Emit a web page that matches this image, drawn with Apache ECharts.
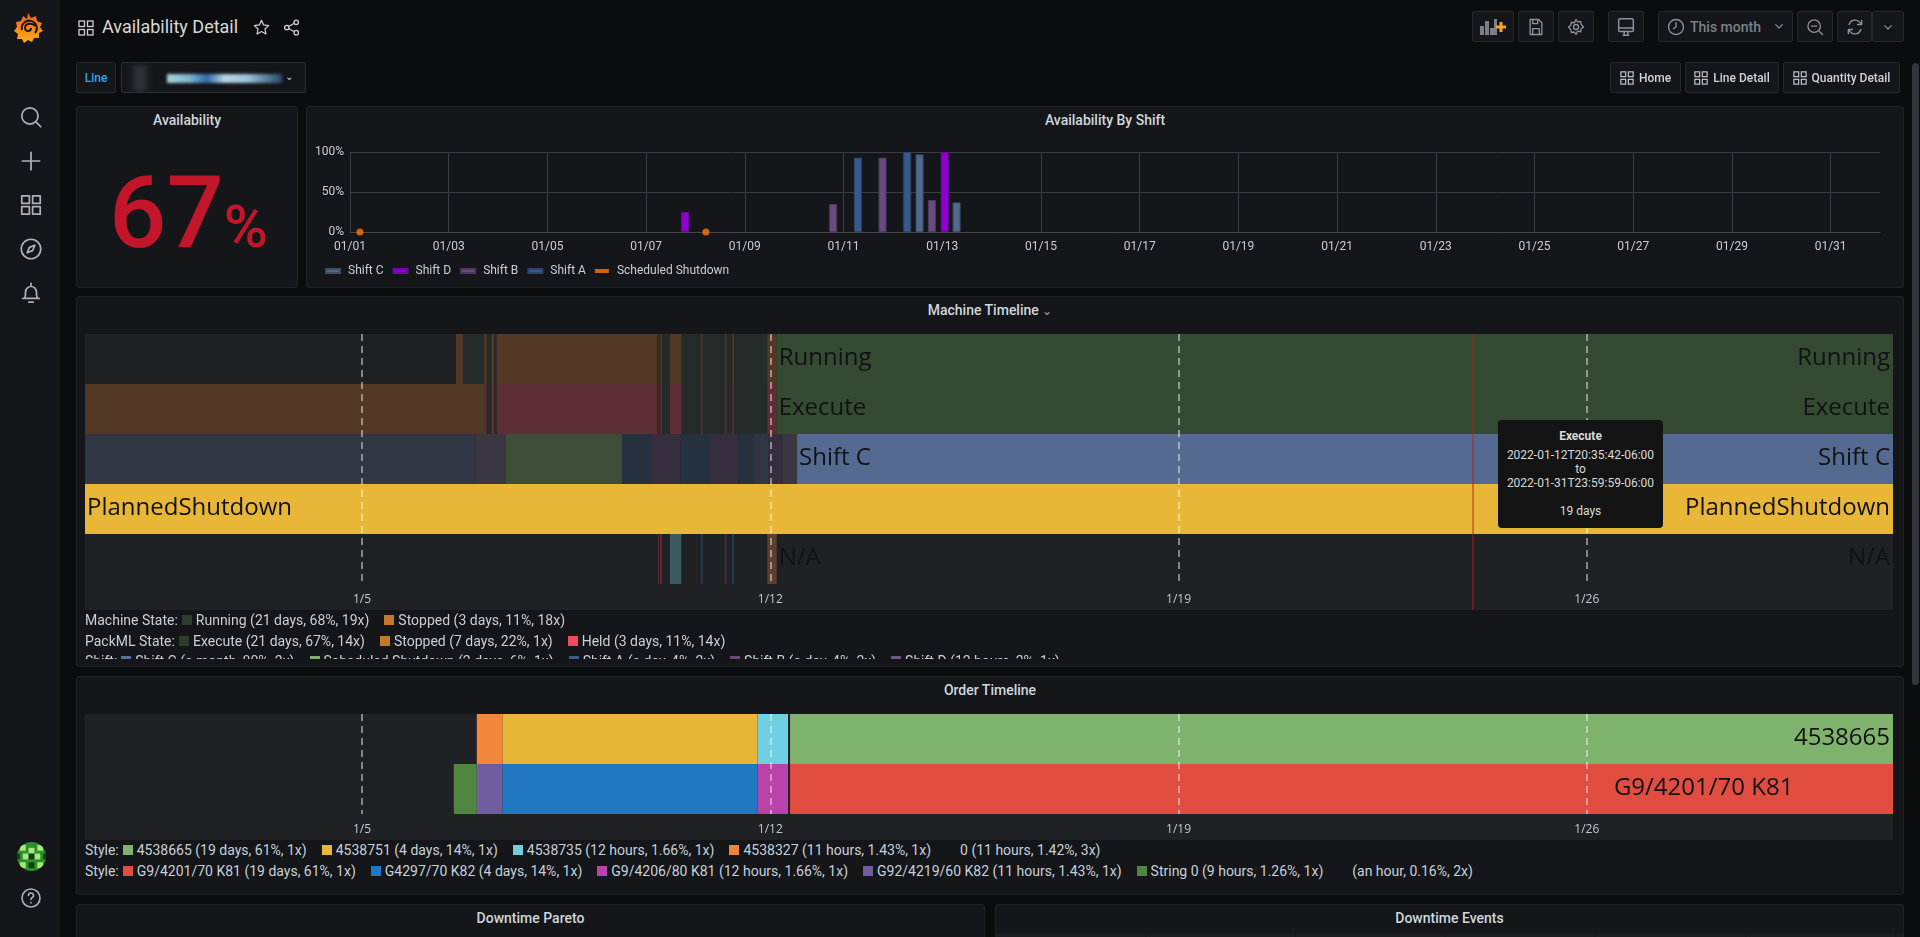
<!DOCTYPE html>
<html>
<head>
<meta charset="utf-8">
<title>Availability Detail</title>
<script src="https://cdn.jsdelivr.net/npm/echarts@6/dist/echarts.min.js"></script>
<style>
html, body { margin: 0; padding: 0; width: 1920px; height: 937px; overflow: hidden; background: #0b0c0e; font-family: Roboto, sans-serif; color: #c7d0d9; }
div { box-sizing: border-box; }
.abs, .panel, .btn, .legend, .chart, .icon { position: absolute; }
.panel { background: #141619; border: 1px solid #202226; border-radius: 3px; }
.ptitle { position: absolute; left: 0; right: 0; top: 5px; line-height: 17px; text-align: center; font-size: 14px; font-weight: 500; color: #d0d6de; white-space: nowrap; }
.btn { background: #141619; border: 1px solid #25272b; border-radius: 2px; display: flex; align-items: center; justify-content: center; font-size: 12px; font-weight: 500; color: #d0d4d9; white-space: nowrap; }
.btn svg { margin-right: 5px; }
.btn.only svg { margin-right: 0; }
.legend { font-size: 14px; line-height: 18px; color: #c7d0d9; white-space: nowrap; display: flex; align-items: center; }
.legend i { display: inline-block; width: 10px; height: 10px; margin: 0 4px 0 4px; flex: none; }
.legend span { margin-right: 11px; }
.chart { background: #202124; }
#sidebar { position: absolute; left: 0; top: 0; width: 60px; height: 937px; background: #141619; }
#tip { position: absolute; left: 1498px; top: 420px; width: 165px; height: 108px; background: #141414; border-radius: 4px; font-size: 12px; line-height: 14px; text-align: center; color: #d8d9da; padding-top: 9px; z-index: 5; }
#tip b { display: block; font-weight: 700; margin-bottom: 5px; }
</style>
</head>
<body>
<div id="sidebar"></div>

<div class="abs" id="title" style="left:102px;top:15px;font-size:18px;line-height:24px;color:#d8d9da;white-space:nowrap;">Availability Detail</div>

<div class="btn" style="left:76px;top:62px;width:40px;height:31px;color:#33a2e5;">Line</div>
<div class="btn" style="left:121px;top:62px;width:185px;height:31px;border-color:#2c2e33;overflow:hidden;">
  <div class="abs" style="left:6px;top:2px;width:24px;height:27px;background:linear-gradient(90deg,#141619,#33373b 50%,#141619);filter:blur(2px);"></div>
  <div class="abs" style="left:45px;top:11px;width:115px;height:9px;background:linear-gradient(90deg,#a8d4dc,#7fb4cc 20%,#2f6aa8 35%,#bcd6e0 50%,#9cc4dc 70%,#27486a 100%);filter:blur(1.5px);"></div>
  <div class="abs" style="right:12px;top:8px;font-size:10px;color:#c7d0d9;">&#8964;</div>
</div>

<div class="panel" style="left:76px;top:106px;width:222px;height:182px;">
  <div class="ptitle">Availability</div>
  <div class="abs" id="stat" style="left:32px;top:47px;line-height:118px;color:#c4162a;white-space:nowrap;font-weight:500;"></div>
</div>
<div class="panel" style="left:306px;top:106px;width:1598px;height:182px;">
  <div class="ptitle">Availability By Shift</div>
</div>
<div class="chart" id="shiftChart" style="left:307px;top:126px;width:1596px;height:160px;background:transparent;"></div>

<div class="panel" style="left:76px;top:296px;width:1828px;height:371px;overflow:hidden;">
  <div class="ptitle">Machine Timeline <span style="font-size:12px;color:#9fa7b3;">&#8964;</span></div>
</div>
<div class="chart" id="machineChart" style="left:85px;top:334px;width:1808px;height:276px;"></div>
<div class="abs" id="machineLegend" style="left:0;top:0;width:1920px;height:659px;overflow:hidden;"></div>

<div id="tip"><b>Execute</b>2022-01-12T20:35:42-06:00<br>to<br>2022-01-31T23:59:59-06:00<br><br>19 days</div>

<div class="panel" style="left:76px;top:676px;width:1828px;height:219px;">
  <div class="ptitle">Order Timeline</div>
</div>
<div class="chart" id="orderChart" style="left:85px;top:714px;width:1808px;height:126px;"></div>
<div class="abs" id="orderLegend" style="left:0;top:0;"></div>

<div class="panel" style="left:76px;top:904px;width:909px;height:60px;">
  <div class="ptitle">Downtime Pareto</div>
</div>
<div class="panel" style="left:995px;top:904px;width:909px;height:60px;">
  <div class="ptitle">Downtime Events</div>
  <div class="abs" style="left:0;right:0;top:28px;height:30px;background:repeating-linear-gradient(90deg,#1b1d21 0 149px,#141619 149px 150px);background-position:0 0;"></div>
</div>

<div class="abs" style="left:1912px;top:63px;width:7px;height:622px;border-radius:4px;background:#33353b;"></div>

<script>
// values, x positions are day of January as a decimal
const availabilityValue = 67

const shiftTickDays = [1, 3, 5, 7, 9, 11, 13, 15, 17, 19, 21, 23, 25, 27, 29, 31]
const yPercentTicks = [0, 50, 100]
const shiftCBars = [[12.54, 97], [13.29, 37]]
const shiftDBars = [[7.79, 25], [13.05, 100]]
const shiftBBars = [[10.79, 35], [11.79, 93], [12.79, 40]]
const shiftABars = [[11.29, 93], [12.29, 100]]
const shutdownPoints = [[1.2, 0], [8.21, 0]]

const timelineTickDays = [5.75, 12.75, 19.75, 26.75]
const timelineTickLabels = ['1/5', '1/12', '1/19', '1/26']

const machineRows = ['Machine State', 'PackML State', 'Shift', 'Mode', 'Status']
const machineStateSegments = [
    [7.361, 7.481, 'Stopped'], [7.481, 7.842, 'Running'], [7.842, 7.888, 'Stopped'], [7.888, 7.967, 'Running'],
    [7.967, 8.018, 'Stopped'], [8.018, 8.059, 'Running'], [8.059, 10.813, 'Stopped'], [10.813, 10.830, 'Running'],
    [10.830, 10.847, 'Stopped'], [10.847, 10.865, 'Running'], [10.865, 10.894, 'Stopped'], [10.894, 11.031, 'Running'],
    [11.031, 11.232, 'Stopped'], [11.232, 11.562, 'Running'], [11.562, 11.592, 'Stopped'], [11.592, 11.974, 'Running'],
    [11.974, 12.003, 'Stopped'], [12.003, 12.099, 'Running'], [12.099, 12.128, 'Stopped'], [12.128, 12.699, 'Running'],
    [12.699, 12.860, 'Stopped'], [12.860, 32, 'RunningNow']
]
const packmlSegments = [
    [1, 7.854, 'Stopped'], [7.854, 7.888, 'Held'], [7.888, 7.967, 'Execute'], [7.967, 8.018, 'Held'],
    [8.018, 8.059, 'Execute'], [8.059, 10.813, 'Held'], [10.813, 10.830, 'Execute'], [10.830, 10.847, 'Held'],
    [10.847, 10.865, 'Execute'], [10.865, 10.894, 'Held'], [10.894, 11.031, 'Execute'], [11.031, 11.232, 'Held'],
    [11.232, 11.562, 'Execute'], [11.562, 11.592, 'Held'], [11.592, 11.974, 'Execute'], [11.974, 12.003, 'Held'],
    [12.003, 12.099, 'Execute'], [12.099, 12.128, 'Held'], [12.128, 12.699, 'Execute'], [12.699, 12.860, 'Held'],
    [12.860, 32, 'ExecuteNow']
]
const shiftSegments = [
    [1, 7.704, 'Shift C'], [7.704, 8.21, 'Shift D'], [8.21, 10.208, 'Scheduled Shutdown'], [10.208, 10.722, 'Shift A'],
    [10.722, 11.214, 'Shift B'], [11.214, 11.717, 'Shift A'], [11.717, 12.209, 'Shift B'], [12.209, 12.459, 'Shift A'],
    [12.459, 12.716, 'Shift C'], [12.716, 12.963, 'Shift B'], [12.963, 13.209, 'Shift D'], [13.209, 32, 'Shift CNow']
]
const modeSegments = [[1, 32, 'PlannedShutdown']]
const statusSegments = [
    [10.825, 10.842, 'Fault'], [10.859, 10.888, 'Fault'], [11.031, 11.225, 'Changeover'], [11.562, 11.592, 'Starved'],
    [11.969, 12.003, 'Blocked'], [12.094, 12.128, 'Starved'], [12.699, 12.860, 'Idle']
]
// row, text, day the label sits at, side
const machineLabels = [
    [0, 'Running', 12.860, 'left'], [0, 'Running', 32, 'right'],
    [1, 'Execute', 12.860, 'left'], [1, 'Execute', 32, 'right'],
    [2, 'Shift C', 13.209, 'left'], [2, 'Shift C', 32, 'right'],
    [3, 'PlannedShutdown', 1, 'left'], [3, 'PlannedShutdown', 32, 'right'],
    [4, 'N/A', 12.860, 'left'], [4, 'N/A', 32, 'right']
]
const hoverDay = [24.8]

const orderRows = ['Order', 'Style']
const orderSegments = [
    [7.718, 8.161, '4538327'], [8.161, 12.531, '4538751'], [12.531, 13.054, '4538735'], [13.089, 32, '4538665']
]
const styleSegments = [
    [7.324, 7.718, 'String 0'], [7.718, 8.161, 'G92/4219/60 K82'], [8.161, 12.531, 'G4297/70 K82'],
    [12.531, 13.054, 'G9/4206/80 K81'], [13.089, 32, 'G9/4201/70 K81']
]
const orderLabels = [
    [0, '4538665', 32, 'right'],
    [1, 'G9/4201/70 K81', 27.18, 'left']
]

const machineLegendLines = [
    ['Machine State:', ['Running (21 days, 68%, 19x)', '#2c3d2c'], ['Stopped (3 days, 11%, 18x)', '#c4792a']],
    ['PackML State:', ['Execute (21 days, 67%, 14x)', '#2c3d2c'], ['Stopped (7 days, 22%, 1x)', '#c4792a'], ['Held (3 days, 11%, 14x)', '#f2495c']],
    ['Shift:', ['Shift C (a month, 80%, 2x)', '#5a6f95'], ['Scheduled Shutdown (2 days, 6%, 1x)', '#7eb26d'], ['Shift A (a day, 4%, 2x)', '#3b5a8a'], ['Shift B (a day, 4%, 2x)', '#6b4a80'], ['Shift D (12 hours, 2%, 1x)', '#6f5a85']]
]
const orderLegendLines = [
    ['Style:', ['4538665 (19 days, 61%, 1x)', '#7eb26d'], ['4538751 (4 days, 14%, 1x)', '#eab839'], ['4538735 (12 hours, 1.66%, 1x)', '#6ed0e0'], ['4538327 (11 hours, 1.43%, 1x)', '#ef843c'], ['0 (11 hours, 1.42%, 3x)', 'transparent']],
    ['Style:', ['G9/4201/70 K81 (19 days, 61%, 1x)', '#e24d42'], ['G4297/70 K82 (4 days, 14%, 1x)', '#1f78c1'], ['G9/4206/80 K81 (12 hours, 1.66%, 1x)', '#ba43a9'], ['G92/4219/60 K82 (11 hours, 1.43%, 1x)', '#705da0'], ['String 0 (9 hours, 1.26%, 1x)', '#508642'], ['(an hour, 0.16%, 2x)', 'transparent']]
]

const stateColors = {
    'Running': '#252b28', 'RunningNow': '#354a33', 'Stopped': '#533826', 'Held': '#5e2d35',
    'Execute': '#252b28', 'ExecuteNow': '#354a33',
    'Shift C': '#303644', 'Shift CNow': '#546a90', 'Shift D': '#3b3742', 'Shift A': '#263140', 'Shift B': '#362e3e',
    'Scheduled Shutdown': '#3d4d38', 'PlannedShutdown': '#e8b738',
    'Fault': '#5d2d35', 'Changeover': '#3c5a60', 'Starved': '#263a50', 'Blocked': '#3f2d4a', 'Idle': '#5e3f2b',
    '4538327': '#f2863a', '4538751': '#e8b738', '4538735': '#6ed0e0', '4538665': '#7eb26d',
    'String 0': '#508642', 'G92/4219/60 K82': '#705da0', 'G4297/70 K82': '#1f78c1', 'G9/4206/80 K81': '#ba43a9', 'G9/4201/70 K81': '#e24d42'
}

// ---- page chrome ----
const gridSvg = (size, color) => `<svg width="${size}" height="${size}" viewBox="0 0 16 16" fill="none" stroke="${color}" stroke-width="1.3"><rect x="1" y="1" width="5.5" height="5.5"/><rect x="9.5" y="1" width="5.5" height="5.5"/><rect x="1" y="9.5" width="5.5" height="5.5"/><rect x="9.5" y="9.5" width="5.5" height="5.5"/></svg>`
const iconPaths = {
    search: '<circle cx="11" cy="11" r="7.5"/><path d="M17 17l4 4"/>',
    plus: '<path d="M12 4v16M4 12h16"/>',
    grid: '<rect x="3.5" y="3.5" width="7" height="7"/><rect x="13.5" y="3.5" width="7" height="7"/><rect x="3.5" y="13.5" width="7" height="7"/><rect x="13.5" y="13.5" width="7" height="7"/>',
    compass: '<circle cx="12" cy="12" r="9"/><path d="M15.5 8.5l-2 5-5 2 2-5z"/>',
    bell: '<path d="M12 3v2M6 17c1-2 1-4 1-6a5 5 0 0 1 10 0c0 2 0 4 1 6zM4.5 17h15M10 20.5h4"/>',
    help: '<circle cx="12" cy="12" r="9"/><path d="M9.5 9.5a2.5 2.5 0 1 1 3.5 2.3c-.7.3-1 .8-1 1.7M12 16.5v.5"/>',
    star: '<path d="M12 3l2.7 5.8 6.3.8-4.6 4.3 1.2 6.3-5.6-3.1-5.6 3.1 1.2-6.3L3 9.6l6.3-.8z"/>',
    share: '<circle cx="18" cy="5.5" r="2.8"/><circle cx="6" cy="12" r="2.8"/><circle cx="18" cy="18.5" r="2.8"/><path d="M8.5 10.7l7-4M8.5 13.3l7 4"/>',
    save: '<path d="M5 3h10l4 4v14H5zM8 3v5h6V3M8 21v-7h8v7"/>',
    gear: '<circle cx="12" cy="12" r="3"/><path d="M12 3l2 3 3.5-.7.7 3.5L21 12l-2.800 2.200-.7 3.500-3.500-.7L12 21l-2-3-3.500.7-.7-3.500L3 12l2.800-2.200.7-3.500 3.500.7z"/>',
    monitor: '<rect x="4" y="3" width="16" height="14" rx="1.500"/><path d="M4 13h16M9 21h6M10 17v4M14 17v4"/>',
    clock: '<circle cx="12" cy="12" r="9"/><path d="M12 6.500V12l-3 2"/>',
    zoom: '<circle cx="11" cy="11" r="7.500"/><path d="M17 17l4 4M8 11h6"/>',
    refresh: '<path d="M5 9a7.500 7.500 0 0 1 13-2.500l2 2.500M19 15a7.500 7.500 0 0 1-13 2.500L4 15M20 4v5h-5M4 20v-5h5"/>',
    chevron: '<path d="M7 10l5 5 5-5"/>'
}
const placeIcon = (name, cx, cy, size, color) => {
    const el = document.createElement('div')
    el.className = 'icon'
    el.style.cssText = `left:${cx - size / 2}px;top:${cy - size / 2}px;width:${size}px;height:${size}px;z-index:3;`
    el.innerHTML = `<svg width="${size}" height="${size}" viewBox="0 0 24 24" fill="none" stroke="${color}" stroke-width="1.600" stroke-linejoin="round" stroke-linecap="round">${iconPaths[name]}</svg>`
    document.body.appendChild(el)
}
const placeButton = (x, w, y, h, html, only) => {
    const el = document.createElement('div')
    el.className = only ? 'btn only' : 'btn'
    el.style.cssText = `left:${x}px;top:${y}px;width:${w}px;height:${h}px;`
    el.innerHTML = html
    document.body.appendChild(el)
    return el
}

// sidebar icons
const logo = document.createElement('div')
logo.className = 'icon'
logo.style.cssText = 'left:13px;top:11px;width:32px;height:34px;z-index:3;'
logo.innerHTML = `<svg width="32" height="34" viewBox="0 0 32 34"><defs><linearGradient id="lg" x1="0" y1="1" x2="0" y2="0"><stop offset="0" stop-color="#fcb216"/><stop offset="1" stop-color="#f05a28"/></linearGradient></defs>
<path fill="url(#lg)" d="M15 2l3 5 5-2 1 5 5 2-2 4 3 4-4 2 0 5-5 0-2 4-4-2-4 3-2-4-5 0 1-5-4-3 3-4-1-5 5-1 2-5 4 3z"/>
<path d="M9 19a7.500 7.500 0 1 1 13 3M22 15a6 5 0 0 0-9-1c-2 2-1 6 2 6 2 0 3-1 3-3" fill="none" stroke="#1a1512" stroke-width="2"/></svg>`
document.body.appendChild(logo)
placeIcon('search', 31, 117, 26, '#aab1ba')
placeIcon('plus', 31, 161, 26, '#aab1ba')
placeIcon('grid', 31, 205, 26, '#aab1ba')
placeIcon('compass', 31, 249, 26, '#aab1ba')
placeIcon('bell', 31, 293, 26, '#aab1ba')
placeIcon('help', 31, 898, 24, '#aab1ba')
const avatar = document.createElement('div')
avatar.className = 'icon'
avatar.style.cssText = 'left:17px;top:842px;width:29px;height:29px;border-radius:50%;z-index:3;overflow:hidden;background:#2f8f2f;'
avatar.innerHTML = `<svg width="29" height="29" viewBox="0 0 10 10"><g fill="#a8e878"><rect x="1" y="1" width="2" height="2"/><rect x="7" y="1" width="2" height="2"/><rect x="4" y="2" width="2" height="2"/><rect x="2" y="4" width="2" height="2"/><rect x="6" y="4" width="2" height="2"/><rect x="1" y="7" width="2" height="2"/><rect x="7" y="7" width="2" height="2"/></g><g fill="#153d15"><rect x="4" y="4" width="2" height="2"/><rect x="4" y="7" width="2" height="2"/><rect x="0" y="4" width="1" height="2"/><rect x="9" y="4" width="1" height="2"/></g></svg>`
document.body.appendChild(avatar)

// top bar
const titleIcon = document.createElement('div')
titleIcon.className = 'icon'
titleIcon.style.cssText = 'left:78px;top:20px;'
titleIcon.innerHTML = gridSvg(16, '#c7d0d9')
document.body.appendChild(titleIcon)
placeIcon('star', 261, 27, 19, '#c7d0d9')
placeIcon('share', 291, 27, 19, '#c7d0d9')
placeButton(1472, 42, 11, 31, '<svg width="26" height="18" viewBox="0 0 26 18"><g fill="#7b7f86"><rect x="0" y="8" width="4" height="9"/><rect x="5" y="3" width="4" height="14"/><rect x="10" y="10" width="4" height="7"/><rect x="14" y="1" width="3" height="16"/></g><path d="M21 4v10M16 9h10" stroke="#f5a623" stroke-width="3"/></svg>', true)
placeButton(1518, 36, 11, 31, '', true)
placeButton(1558, 36, 11, 31, '', true)
placeButton(1608, 36, 11, 31, '', true)
placeButton(1658, 135, 11, 31, '<span style="position:absolute;left:31px;font-size:14px;font-weight:500;color:#7b8087;">This month</span>', true)
placeButton(1797, 36, 11, 31, '', true)
placeButton(1837, 35, 11, 31, '', true)
placeButton(1872, 32, 11, 31, '', true)
placeIcon('save', 1536, 27, 20, '#8e9299')
placeIcon('gear', 1576, 27, 20, '#8e9299')
placeIcon('monitor', 1626, 27, 22, '#8e9299')
placeIcon('clock', 1676, 27, 20, '#8e9299')
placeIcon('chevron', 1779, 26, 16, '#8e9299')
placeIcon('zoom', 1815, 27, 20, '#8e9299')
placeIcon('refresh', 1855, 27, 20, '#8e9299')
placeIcon('chevron', 1888, 27, 16, '#8e9299')
placeButton(1610, 71, 62, 31, gridSvg(14, '#c7d0d9') + 'Home')
placeButton(1685, 94, 62, 31, gridSvg(14, '#c7d0d9') + 'Line Detail')
placeButton(1783, 117, 62, 31, gridSvg(14, '#c7d0d9') + 'Quantity Detail')

// single stat
document.getElementById('stat').innerHTML = `<span style="font-size:101px;">${availabilityValue}</span><span style="font-size:60px;margin-left:0;">%</span>`

// legends under the timelines
const buildLegend = (target, lines, x, tops) => {
    lines.forEach((line, i) => {
        const el = document.createElement('div')
        el.className = 'legend'
        el.style.cssText = `left:${x}px;top:${tops[i]}px;`
        let html = line[0]
        line.slice(1).forEach(item => {
            html += `<i style="background:${item[1]}"></i><span>${item[0]}</span>`
        })
        el.innerHTML = html
        target.appendChild(el)
    })
}
buildLegend(document.getElementById('machineLegend'), machineLegendLines, 85, [611, 632, 652])
buildLegend(document.getElementById('orderLegend'), orderLegendLines, 85, [841, 862])

// ---- charts ----
const barSeries = (name, data, color, border) => ({
    name: name,
    type: 'bar',
    data: data,
    barWidth: 8,
    barGap: '-100%',
    itemStyle: { color: color, borderColor: border, borderWidth: 1 }
})

const shiftChart = echarts.init(document.getElementById('shiftChart'))
shiftChart.setOption({
    animation: false,
    textStyle: { fontFamily: 'Roboto' },
    grid: { left: 43, top: 26, width: 1530, height: 80 },
    legend: {
        left: 13, top: 134, icon: 'rect', itemWidth: 14, itemHeight: 4, itemGap: 9,
        textStyle: { color: '#c7d0d9', fontSize: 12, fontFamily: 'Roboto', padding: [0, 0, 0, 3] },
        data: ['Shift C', 'Shift D', 'Shift B', 'Shift A', 'Scheduled Shutdown']
    },
    xAxis: {
        type: 'value', min: 1, max: 32,
        axisLine: { lineStyle: { color: '#45474c' } },
        axisTick: { show: false, customValues: shiftTickDays },
        splitLine: { show: true, lineStyle: { color: '#3b3d42' } },
        axisLabel: {
            customValues: shiftTickDays, color: '#c7d0d9', fontSize: 12, margin: 9,
            formatter: v => '01/' + String(v).padStart(2, '0')
        }
    },
    yAxis: {
        type: 'value', min: 0, max: 100, interval: 50,
        axisLine: { show: false }, axisTick: { show: false },
        splitLine: { lineStyle: { color: '#3b3d42' } },
        axisLabel: { color: '#c7d0d9', fontSize: 12, margin: 6, formatter: '{value}%', customValues: yPercentTicks }
    },
    series: [
        barSeries('Shift C', shiftCBars, '#52698f', '#3f4d67'),
        barSeries('Shift D', shiftDBars, '#8f00d0', '#6d0aa0'),
        barSeries('Shift B', shiftBBars, '#6b4a80', '#4e3a60'),
        barSeries('Shift A', shiftABars, '#38598c', '#2d456c'),
        {
            name: 'Scheduled Shutdown', type: 'scatter', data: shutdownPoints, symbolSize: 7, clip: false,
            itemStyle: { color: '#ff780a' }
        }
    ]
})

// one timeline row -> custom series items
const rowItems = (segments, row) => segments.map(s => ({
    value: [s[0], s[1], row],
    itemStyle: { color: stateColors[s[2]] }
}))

const renderSegment = (params, api) => {
    const from = api.coord([api.value(0), api.value(2)])
    const to = api.coord([api.value(1), api.value(2)])
    const h = api.size([0, 1])[1]
    return {
        type: 'rect',
        shape: { x: from[0], y: from[1] - h / 2, width: to[0] - from[0], height: h },
        style: { fill: api.visual('color') }
    }
}

const labelSeries = labels => ({
    type: 'custom',
    z: 6,
    silent: true,
    data: labels.map(l => [l[2], l[0]]),
    encode: { x: 0, y: 1 },
    renderItem: (params, api) => {
        const label = labels[params.dataIndex]
        const p = api.coord([api.value(0), api.value(1)])
        const right = label[3] === 'right'
        return {
            type: 'text',
            style: {
                x: p[0] + (right ? -3 : 2), y: p[1] - 1,
                text: label[1], fill: '#111214', font: '24px "Open Sans"',
                align: label[3], verticalAlign: 'middle'
            }
        }
    }
})

const timelineOption = (rows, gridHeight, segmentData, labels) => ({
    animation: false,
    grid: { left: 0, right: 0, top: 0, height: gridHeight },
    xAxis: {
        type: 'value', min: 1, max: 32, z: 5,
        axisLine: { show: false },
        axisTick: { customValues: timelineTickDays, length: 5, lineStyle: { color: 'rgba(255,255,255,0.6)', width: 1.5 } },
        splitLine: { show: true, lineStyle: { color: 'rgba(255,255,255,0.6)', type: [7, 5], width: 1.5 } },
        axisLabel: {
            customValues: timelineTickDays, color: '#c4c8cc', fontSize: 12, fontFamily: 'Open Sans', margin: 10,
            formatter: v => timelineTickLabels[timelineTickDays.indexOf(v)]
        }
    },
    yAxis: { type: 'category', inverse: true, data: rows, show: false },
    series: [
        { type: 'custom', z: 2, silent: true, data: segmentData, encode: { x: [0, 1], y: 2 }, renderItem: renderSegment },
        labelSeries(labels)
    ]
})

const machineChart = echarts.init(document.getElementById('machineChart'))
const machineOption = timelineOption(machineRows, 250, [].concat(
    rowItems(machineStateSegments, 0), rowItems(packmlSegments, 1), rowItems(shiftSegments, 2),
    rowItems(modeSegments, 3), rowItems(statusSegments, 4)
), machineLabels)
// hover crosshair
machineOption.series.push({
    type: 'custom', z: 7, silent: true,
    data: hoverDay.map(d => [d, 0]),
    encode: { x: 0, y: 1 },
    renderItem: (params, api) => {
        const x = api.coord([api.value(0), 0])[0]
        return {
            type: 'line',
            shape: { x1: x, y1: 0, x2: x, y2: api.getHeight() },
            style: { stroke: 'rgba(190,30,30,0.5)', lineWidth: 2 }
        }
    }
})
machineChart.setOption(machineOption)

const orderChart = echarts.init(document.getElementById('orderChart'))
orderChart.setOption(timelineOption(orderRows, 100, [].concat(
    rowItems(orderSegments, 0), rowItems(styleSegments, 1)
), orderLabels))
</script>
</body>
</html>
